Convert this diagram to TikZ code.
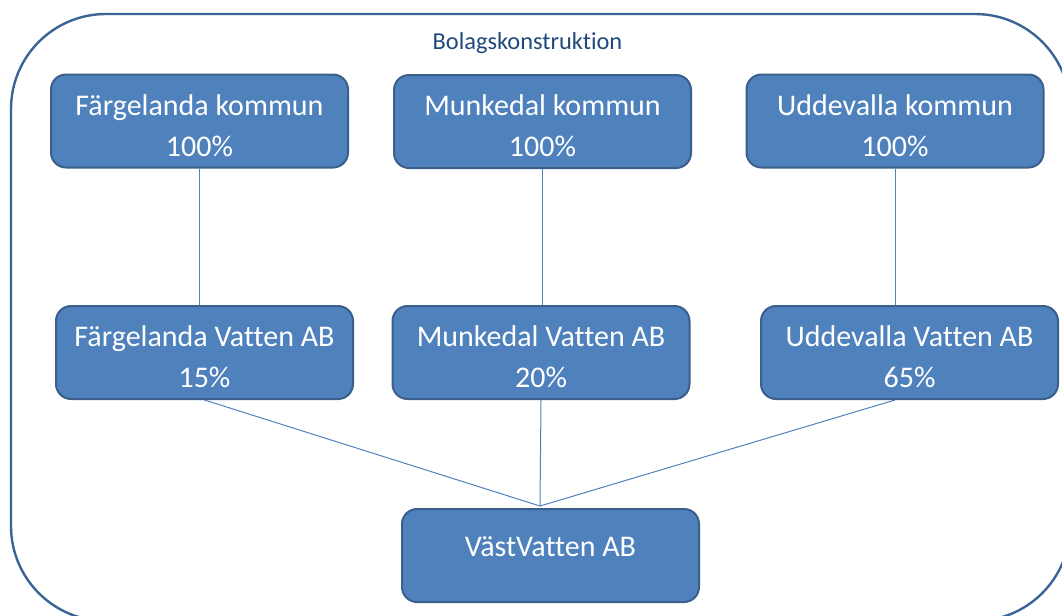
\documentclass[tikz,border=0pt]{standalone}
\usepackage{fontspec}
\setmainfont{Carlito}[Ligatures=NoCommon]
\usepackage{tikz}

\definecolor{boxfill}{HTML}{4F81BD}
\definecolor{boxline}{HTML}{3A5F8B}
\definecolor{framecol}{HTML}{3B6496}
\definecolor{titlecol}{HTML}{1F497D}

\begin{document}
\begin{tikzpicture}[x=0.75pt,y=0.75pt,yscale=-1,xscale=1,
  orgbox/.style={draw=boxline,line width=1.5pt,fill=boxfill,rounded corners=11.25pt,
    minimum width=222.75pt,minimum height=69.75pt,inner sep=0pt,align=center,
    text=white,font=\fontsize{22.5}{30.75}\selectfont,text height=54pt,text depth=1.5pt},
  link/.style={draw=boxfill,line width=0.75pt}]
\useasboundingbox (0,0) rectangle (1062,615);
\clip (0,0) rectangle (1062,615);

%Shape: Rounded Rect [id:frame]
\draw [draw=framecol,line width=1.8pt,rounded corners=71.25pt] (11,14) rectangle (1070,621) ;

% Text Node
\node (title) at (527.5,49) [anchor=base,inner sep=0.75pt,text=titlecol,font=\fontsize{18.3}{22}\selectfont] {Bolagskonstruktion};

% Text Node
\node (fkom) at (199.5,121) [orgbox] {Färgelanda kommun\\100\%};
% Text Node
\node (mkom) at (542.5,121.5) [orgbox] {Munkedal kommun\\100\%};
% Text Node
\node (ukom) at (895,121) [orgbox] {Uddevalla kommun\\100\%};
% Text Node
\node (fvat) at (204.5,352.5) [orgbox] {Färgelanda Vatten AB\\15\%};
% Text Node
\node (mvat) at (541,352.5) [orgbox] {Munkedal Vatten AB\\20\%};
% Text Node
\node (uvat) at (909.5,352.5) [orgbox] {Uddevalla Vatten AB\\65\%};
% Text Node
\node (vast) at (550.5,555.5) [orgbox,text height=16pt,text depth=14pt] {VästVatten AB};

\coordinate (join) at (540,506);

%Straight Lines
\draw [link] (fkom.south) -- (fkom.south |- fvat.north) ;
%Straight Lines
\draw [link] (mkom.south) -- (mkom.south |- mvat.north) ;
%Straight Lines
\draw [link] (ukom.south) -- (ukom.south |- uvat.north) ;
%Straight Lines
\draw [link] (fvat.south) -- (join) ;
%Straight Lines
\draw [link] (mvat.south) -- (join) ;
%Straight Lines
\draw [link] (uvat.south -| ukom.south) -- (join) ;

\end{tikzpicture}
\end{document}
